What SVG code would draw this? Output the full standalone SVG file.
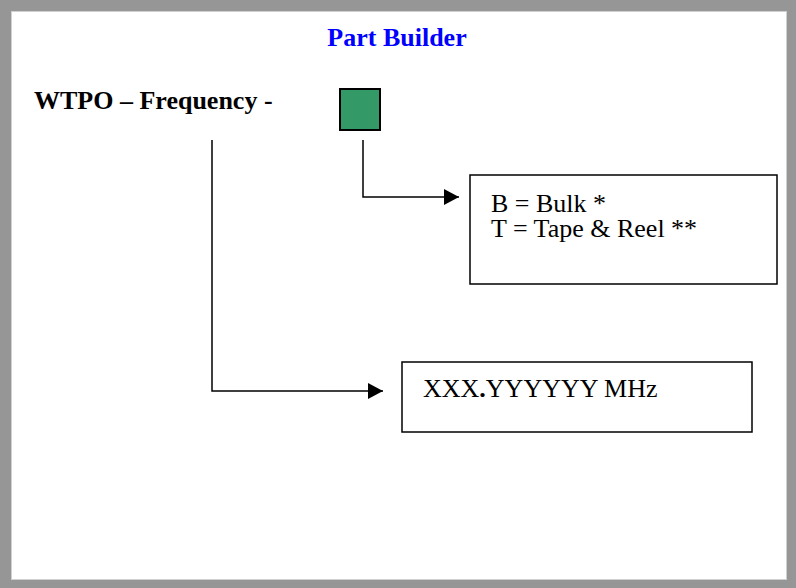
<svg xmlns="http://www.w3.org/2000/svg" width="796" height="588" viewBox="0 0 796 588">
  <defs>
    <marker id="arr" markerUnits="userSpaceOnUse" markerWidth="16" markerHeight="16" refX="15" refY="8" orient="auto">
      <path d="M0,0 L15,8 L0,16 Z" fill="#000"/>
    </marker>
  </defs>
  <style>
    .frame { fill: #969696; }
    .page { fill: #ffffff; stroke: #d0d0d0; stroke-width: 1; }
    .box { fill: #ffffff; stroke: #000; stroke-width: 1.5; }
    .conn { fill: none; stroke: #000; stroke-width: 1.5; }
    .title { font-family: "Liberation Serif", "Times New Roman", serif; font-weight: bold; font-size: 26px; fill: #0000ff; }
    .head { font-family: "Liberation Serif", "Times New Roman", serif; font-weight: bold; font-size: 26px; fill: #000; }
    .txt { font-family: "Liberation Serif", "Times New Roman", serif; font-size: 26px; fill: #000; }
  </style>
  <rect class="frame" x="0" y="0" width="796" height="588"/>
  <rect class="page" x="11.5" y="11.5" width="775" height="568"/>

  <g id="title">
    <text class="title" x="397" y="46" text-anchor="middle">Part Builder</text>
  </g>
  <g id="part-number">
    <text class="head" x="34" y="109">WTPO – Frequency -</text>
  </g>
  <g id="packaging-code">
    <rect x="340" y="89" width="40" height="41" fill="#339966" stroke="#000" stroke-width="2"/>
  </g>
  <g id="packaging-box">
    <rect class="box" x="470" y="175" width="307" height="109"/>
    <text class="txt" x="491" y="212">B = Bulk *</text>
    <text class="txt" x="491" y="237">T = Tape &amp; Reel **</text>
  </g>
  <g id="frequency-box">
    <rect class="box" x="402" y="362" width="350" height="70"/>
    <text class="txt" x="423" y="397">XXX<tspan font-weight="bold">.</tspan>YYYYYY MHz</text>
  </g>
  <g id="connectors">
    <path class="conn" d="M363,140 V197 H459" marker-end="url(#arr)"/>
    <path class="conn" d="M212,140 V391 H383" marker-end="url(#arr)"/>
  </g>
</svg>
